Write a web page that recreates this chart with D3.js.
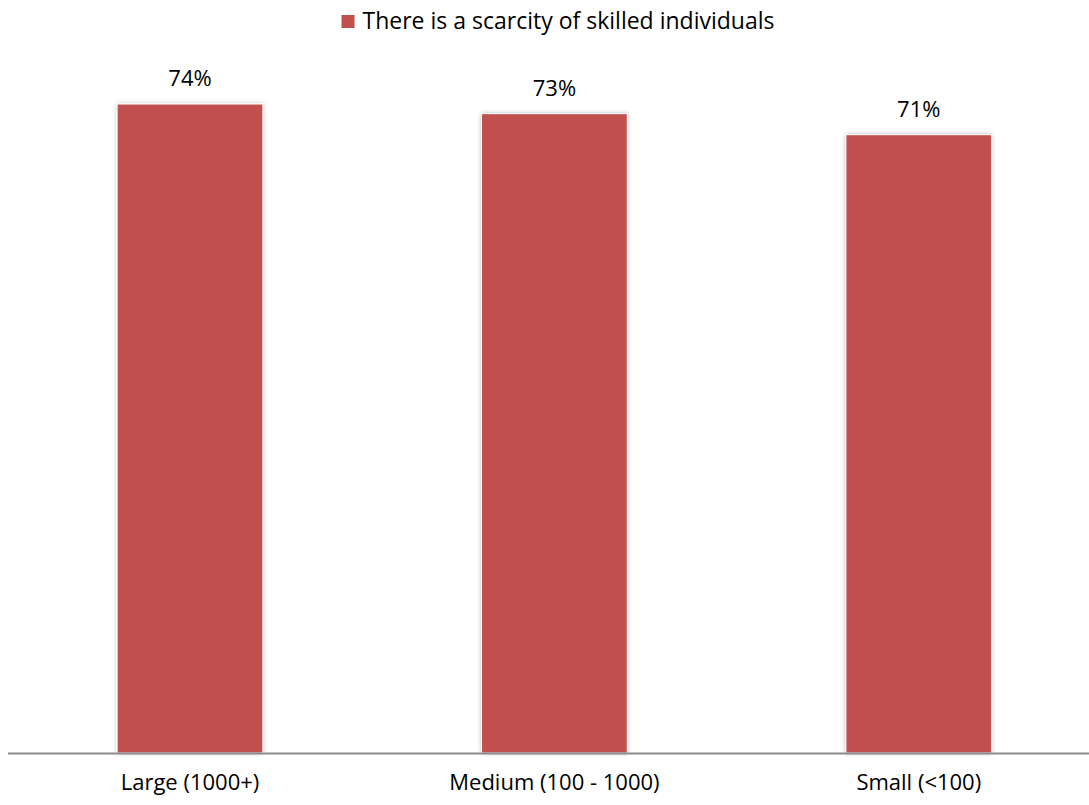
<!DOCTYPE html>
<html>
<head>
<meta charset="utf-8">
<script src="https://cdn.jsdelivr.net/npm/d3@7"></script>
<style>
  html, body { margin: 0; padding: 0; background: #fff; }
  svg { display: block; font-family: "Open Sans", "Noto Sans", sans-serif; }
</style>
</head>
<body>
<svg id="chart" width="1089" height="805"></svg>
<script>
const categories = ["Large (1000+)", "Medium (100 - 1000)", "Small (<100)"];
const values = [74.0, 72.9, 70.5];
const seriesName = "There is a scarcity of skilled individuals";
const barColor = "#C0504D";

const svg = d3.select("#chart");
const W = 1089, H = 805;

const defs = svg.append("defs");
const f = defs.append("filter").attr("id", "shadow").attr("x", "-10%").attr("y", "-5%").attr("width", "120%").attr("height", "110%");
f.append("feGaussianBlur").attr("in", "SourceAlpha").attr("stdDeviation", 2).attr("result", "blur");
f.append("feComponentTransfer").attr("in", "blur").attr("result", "soft")
  .append("feFuncA").attr("type", "linear").attr("slope", 0.25);
const merge = f.append("feMerge");
merge.append("feMergeNode").attr("in", "soft");
merge.append("feMergeNode").attr("in", "SourceGraphic");

const x = d3.scaleBand().domain(categories).range([7.8, 1101]).paddingInner(0.6).paddingOuter(0.3);
const y = d3.scaleLinear().domain([0, 80]).range([753, 51.4]);

// bars
svg.append("g").selectAll("rect").data(values).join("rect")
  .attr("x", (d, i) => x(categories[i]))
  .attr("y", d => y(d))
  .attr("width", x.bandwidth())
  .attr("height", d => y(0) - y(d))
  .attr("fill", barColor)
  .attr("stroke", "#fff")
  .attr("stroke-width", 1)
  .attr("filter", "url(#shadow)");

// value labels
svg.append("g").selectAll("text").data(values).join("text")
  .attr("x", (d, i) => x(categories[i]) + x.bandwidth() / 2)
  .attr("y", d => y(d) - 18)
  .attr("text-anchor", "middle")
  .attr("font-size", 22)
  .attr("fill", "#000")
  .text(d => Math.round(d) + "%");

// x axis
const xAxis = d3.axisBottom(x).tickSize(0).tickPadding(0);
const gx = svg.append("g").attr("transform", `translate(0,${y(0)})`).call(xAxis);
gx.select(".domain").remove();
gx.selectAll("text").attr("font-size", 22).attr("fill", "#000")
  .attr("font-family", "\"Open Sans\", sans-serif").attr("dy", null).attr("y", 37);
svg.append("line").attr("x1", 8).attr("x2", W).attr("y1", y(0) + 0.5).attr("y2", y(0) + 0.5)
  .attr("stroke", "#8c8c8c").attr("stroke-width", 2);

// legend
const lg = svg.append("g");
lg.append("rect").attr("width", 13).attr("height", 13).attr("y", 15).attr("fill", barColor);
const lt = lg.append("text").attr("x", 21).attr("y", 29).attr("font-size", 23).attr("fill", "#000").text(seriesName);
const total = 21 + lt.node().getComputedTextLength();
lg.attr("transform", `translate(${558 - total / 2},0)`);
</script>
</body>
</html>
